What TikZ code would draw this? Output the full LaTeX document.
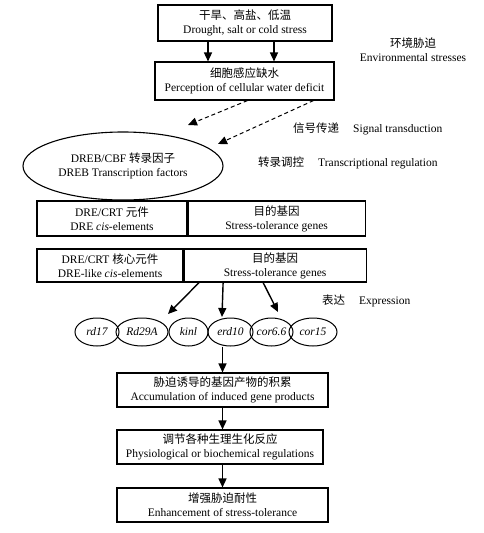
\documentclass[tikz,border=0pt]{standalone}
\usepackage{fontspec}
\setmainfont{Liberation Serif}
\newfontfamily\cjk{Noto Sans CJK SC}
\newcommand{\zh}[1]{{\cjk #1}}
\usetikzlibrary{arrows.meta,shapes.geometric}

\begin{document}
\begin{tikzpicture}[x=1pt,y=-1pt,
    every node/.style={font=\fontsize{11.5}{14}\selectfont, align=center, inner sep=0pt},
    box/.style={draw, line width=1.1pt, minimum height=34pt},
    gene/.style={draw, ellipse, line width=1pt, minimum height=28pt,
      font=\fontsize{11.5}{14}\selectfont\itshape},
    arr/.style={line width=1.4pt, -{Triangle[length=9pt,width=8pt]}},
    dasharr/.style={arr, line width=1pt, dash pattern=on 4pt off 3pt},
    note/.style={anchor=west}]
    \useasboundingbox (0,0) rectangle (484,533);
    % Stress and perception
    \node[box, minimum width=174pt, minimum height=36pt] (stress) at (245,23)
      {\zh{干旱、高盐、低温}\\Drought, salt or cold stress};
    \node[box, minimum width=179pt, minimum height=38pt] (percept) at (244.5,81)
      {\zh{细胞感应缺水}\\Perception of cellular water deficit};
    \draw[arr] ([xshift=-37pt]stress.south) -- ([xshift=-36.5pt]percept.north);
    \draw[arr] ([xshift=29pt]stress.south) -- ([xshift=29.5pt]percept.north);
    % Transcription factors
    \node[draw, ellipse, line width=1.1pt, minimum width=200pt, minimum height=68pt] (dreb) at (123,166)
      {DREB/CBF \zh{转录因子}\\DREB Transcription factors};
    \coordinate (sig1) at (188,125);
    \coordinate (sig2) at (218,144);
    \draw[dasharr] ([xshift=3pt]percept.south) -- (sig1);
    \draw[dasharr] ([xshift=69pt]percept.south) -- (sig2);
    % Elements and target genes
    \node[box, minimum width=150pt, minimum height=35pt] (dre1) at (112,218.5)
      {DRE/CRT \zh{元件}\\DRE \textit{cis}-elements};
    \node[box, anchor=west, minimum width=177pt, minimum height=35pt] (target1) at (dre1.east)
      {\zh{目的基因}\\Stress-tolerance genes};
    \node[box, minimum width=146pt, minimum height=33pt] (dre2) at (110,265.5)
      {DRE/CRT \zh{核心元件}\\DRE-like \textit{cis}-elements};
    \node[box, anchor=west, minimum width=182pt, minimum height=33pt] (target2) at (dre2.east)
      {\zh{目的基因}\\Stress-tolerance genes};
    % Genes
    \foreach \n/\x/\w/\t in {rd/97/44/rd17, rdA/142/52/Rd29A, kin/188.5/39/kinl,
        erd/230.5/45/erd10, corA/271.5/43/cor6.6, corB/313/48/cor15}
      \node[gene, minimum width=\w] (\n) at (\x,332) {\t};
    \coordinate (ex1) at (168,314);
    \coordinate (ex2) at (222,317);
    \coordinate (ex3) at (278,312);
    \draw[arr] ([xshift=-76pt]target2.south) -- (ex1);
    \draw[arr] ([xshift=-52pt]target2.south) -- (ex2);
    \draw[arr] ([xshift=-12pt]target2.south) -- (ex3);
    % Downstream
    \node[box, minimum width=211pt] (accum) at (222.5,390)
      {\zh{胁迫诱导的基因产物的积累}\\Accumulation of induced gene products};
    \node[box, minimum width=206pt] (regul) at (220,447)
      {\zh{调节各种生理生化反应}\\Physiological or biochemical regulations};
    \node[box, minimum width=211pt] (enhance) at (222.5,505)
      {\zh{增强胁迫耐性}\\Enhancement of stress-tolerance};
    \draw[arr] (accum.north |- erd.south) -- (accum.north);
    \draw[arr] (accum.south) -- (accum.south |- regul.north);
    \draw[arr] (accum.south |- regul.south) -- (accum.south |- enhance.north);
    % Side labels
    \node (env) at (413,50) {\zh{环境胁迫}\\Environmental stresses};
    \node[note] (signal) at (293,129) {\zh{信号传递}\hspace{14pt}Signal transduction};
    \node[note] (transreg) at (258,163) {\zh{转录调控}\hspace{14pt}Transcriptional regulation};
    \node[note] (expr) at (322,301) {\zh{表达}\hspace{14pt}Expression};
\end{tikzpicture}
\end{document}
